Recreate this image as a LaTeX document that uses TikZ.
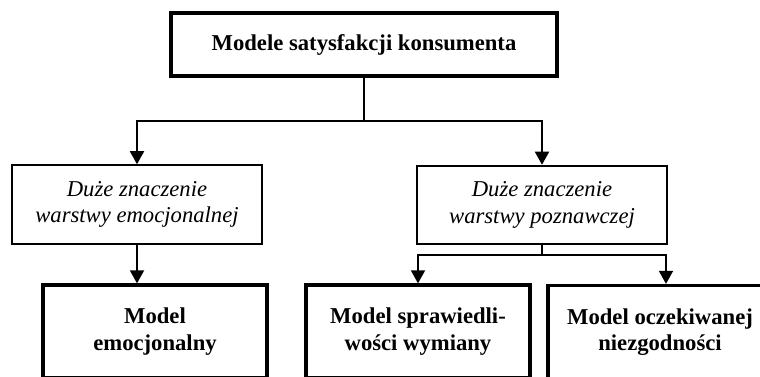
\documentclass[tikz,border=0pt]{standalone}
\usepackage{fontspec}
\setmainfont{Liberation Serif}
\usepackage{tikz}
\usetikzlibrary{arrows.meta, positioning, calc}

\newcommand{\boxfont}{\fontsize{17}{20}\selectfont}

\tikzset{
  basebox/.style={
    rectangle, draw=black, align=center, inner sep=0pt
  },
  headbox/.style={basebox, line width=2.6pt, minimum width=289.5pt, minimum height=47.25pt, font=\boxfont\bfseries},
  layerbox/.style={basebox, line width=1.4pt, minimum width=187.5pt, minimum height=59pt, font=\boxfont\itshape},
  modelbox/.style={basebox, line width=2.5pt, minimum width=168pt, minimum height=69.75pt, font=\boxfont\bfseries},
  link/.style={line width=1.4pt},
  arrow/.style={link, -{Triangle[length=9.75pt, width=10.5pt]}}
}

\begin{document}
\begin{tikzpicture}[x=0.75pt, y=0.75pt]
  \useasboundingbox (0,0) rectangle (760,-376);
  \clip (0,0) rectangle (760,-376);

  \node[headbox] (models) at (364,-44.5) {Modele satysfakcji konsumenta};

  \node[layerbox] (emo) at (137,-204.5) {Duże znaczenie\\warstwy emocjonalnej};
  \node[layerbox] (cog) at (542,-205) {Duże znaczenie\\warstwy poznawczej};

  \node[modelbox] (emomodel) at (155,-331.5) {Model\\emocjonalny};
  \node[modelbox] (equity) at (418,-331.5) {Model sprawiedli-\\wości wymiany};
  \node[modelbox] (disconf) at (660,-332) {Model oczekiwanej\\niezgodności};

  % split under the main box
  \draw[link] (models.south) -- ++(0,-43) coordinate (split);
  \draw[arrow] (split) -| (emo.north);
  \draw[arrow] (split) -| (cog.north);

  \draw[arrow] (emo.south) -- (emo.south |- emomodel.north);

  % fork under the cognitive layer
  \draw[link] (cog.south) -- ++(0,-10) coordinate (fork);
  \draw[arrow] (fork) -| (equity.north);
  \draw[arrow] (fork) -| ($(disconf.north)+(6,0)$);
\end{tikzpicture}
\end{document}
